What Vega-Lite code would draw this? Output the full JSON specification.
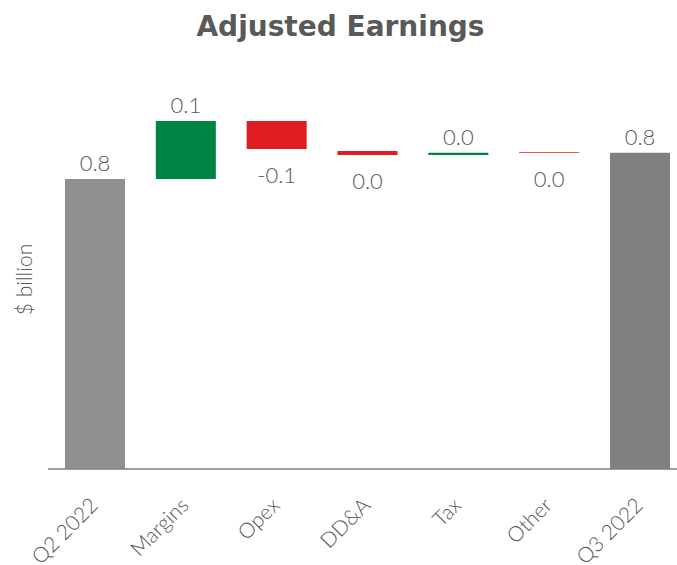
{
  "$schema": "https://vega.github.io/schema/vega-lite/v6.json",
  "width": 629,
  "height": 380,
  "autosize": {"type": "none"},
  "padding": {"left": 48, "top": 89, "right": 0, "bottom": 96},
  "background": "white",
  "title": {
    "text": "Adjusted Earnings",
    "font": "DejaVu Sans",
    "fontSize": 28,
    "fontWeight": "bold",
    "color": "#595959",
    "anchor": "middle",
    "dx": -22,
    "baseline": "alphabetic",
    "offset": 25
  },
  "config": {"view": {"stroke": null}},
  "data": {
    "values": [
      {"cat": "Q2 2022", "start": 0, "end": 0.763, "type": "open", "label": "0.8", "dir": "up"},
      {"cat": "Margins", "start": 0.763, "end": 0.916, "type": "increase", "label": "0.1", "dir": "up"},
      {"cat": "Opex", "start": 0.916, "end": 0.842, "type": "decrease", "label": "-0.1", "dir": "down"},
      {"cat": "DD&A", "start": 0.837, "end": 0.826, "type": "decrease", "label": "0.0", "dir": "down"},
      {"cat": "Tax", "start": 0.826, "end": 0.832, "type": "increase", "label": "0.0", "dir": "up"},
      {"cat": "Other", "start": 0.834, "end": 0.832, "type": "decrease", "label": "0.0", "dir": "down"},
      {"cat": "Q3 2022", "start": 0, "end": 0.832, "type": "close", "label": "0.8", "dir": "up"}
    ]
  },
  "layer": [
    {
      "mark": {"type": "bar"},
      "encoding": {
        "x": {
          "field": "cat",
          "type": "nominal",
          "sort": null,
          "scale": {"paddingInner": 0.339, "paddingOuter": 0.132, "align": 0.708},
          "axis": {
            "title": null,
            "domain": false,
            "ticks": false,
            "labelAngle": -45,
            "labelAlign": "right",
            "labelBaseline": "middle",
            "labelPadding": 33,
            "labelFont": "Lato",
            "labelFontSize": 21,
            "labelFontWeight": 300,
            "labelColor": "#595959"
          }
        },
        "y": {
          "field": "start",
          "type": "quantitative",
          "scale": {"domain": [0, 1], "nice": false, "zero": true},
          "axis": {
            "labels": false,
            "ticks": false,
            "domain": false,
            "grid": false,
            "title": "$ billion",
            "titleFont": "Lato",
            "titleFontSize": 21,
            "titleFontWeight": 300,
            "titleColor": "#595959",
            "titlePadding": 13
          }
        },
        "y2": {"field": "end"},
        "color": {
          "field": "type",
          "type": "nominal",
          "scale": {
            "domain": ["open", "increase", "decrease", "close"],
            "range": ["#909090", "#008443", "#dd1d21", "#808080"]
          },
          "legend": null
        }
      }
    },
    {
      "data": {"values": [{"base": 0}]},
      "mark": {"type": "rule", "color": "#7f7f7f", "strokeWidth": 1.6},
      "encoding": {"y": {"field": "base", "type": "quantitative"}}
    },
    {
      "transform": [{"filter": "datum.dir === 'up'"}],
      "mark": {"type": "text", "font": "Lato", "fontSize": 22, "fontWeight": 300, "color": "#595959", "baseline": "alphabetic", "dy": -8},
      "encoding": {
        "x": {"field": "cat", "type": "nominal", "sort": null},
        "y": {"field": "end", "type": "quantitative"},
        "text": {"field": "label"}
      }
    },
    {
      "transform": [{"filter": "datum.dir === 'down'"}],
      "mark": {"type": "text", "font": "Lato", "fontSize": 22, "fontWeight": 300, "color": "#595959", "baseline": "top", "dy": 17},
      "encoding": {
        "x": {"field": "cat", "type": "nominal", "sort": null},
        "y": {"field": "end", "type": "quantitative"},
        "text": {"field": "label"}
      }
    }
  ]
}
